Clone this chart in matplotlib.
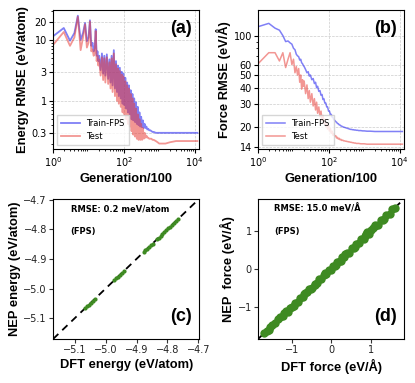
import numpy as np
import matplotlib
matplotlib.use("Agg")
import matplotlib.pyplot as plt
from matplotlib.ticker import FixedLocator, FixedFormatter, NullFormatter

# ---- training history (generation in units of 100) ----
generation = [1, 2, 3, 4, 5, 6, 7, 8, 9, 10, 11, 12, 13, 14, 15, 16, 17, 18, 19, 20,
              22, 24, 26, 28, 30, 33, 36, 39, 42, 45, 48, 52, 56, 60, 64, 68, 72, 77, 82, 87,
              92, 98, 104, 110, 117, 124, 131, 139, 147, 156, 165, 175, 185, 196, 208, 220,
              233, 247, 261, 276, 292, 309, 327, 346, 366, 388,
              410, 435, 460, 490, 520, 560, 600, 650, 700, 800, 900, 1000, 1200, 1500,
              2000, 3000, 5000, 8000, 12000]

energy_train = [11.5, 15.7, 9.7, 13, 25, 10, 13, 19, 9.5, 11, 21, 8, 9, 6.5, 7.5, 15, 5.5, 6.5, 4.5, 5.5,
                3.2, 6.0, 2.8, 5.5, 2.6, 5.8, 2.3, 4.8, 2.0, 5.5, 1.8, 6.8, 1.6, 4.5, 1.4, 3.8, 1.2, 3.5, 1.1, 3.0,
                0.9, 2.8, 0.85, 2.4, 0.75, 2.0, 0.65, 1.8, 0.6, 1.5, 0.5, 1.3, 0.48, 1.1, 0.45, 0.95,
                0.42, 0.8, 0.4, 0.65, 0.38, 0.55, 0.37, 0.48, 0.36, 0.42,
                0.36, 0.38, 0.34, 0.35, 0.33, 0.33, 0.32, 0.31, 0.31, 0.30, 0.30, 0.30, 0.30, 0.30,
                0.30, 0.30, 0.30, 0.30, 0.30]
energy_test = [8.3, 13.5, 8.0, 11, 24, 6.8, 11, 18, 7.5, 9, 20, 6.5, 7, 5.5, 6, 14, 4.5, 5.5, 3.8, 4.8,
               2.6, 5.2, 2.2, 5.0, 2.0, 5.2, 1.9, 4.3, 1.6, 5.0, 1.4, 6.0, 1.2, 4.0, 1.0, 3.4, 0.9, 3.1, 0.8, 2.7,
               0.65, 2.5, 0.6, 2.1, 0.5, 1.8, 0.42, 1.6, 0.38, 1.3, 0.32, 1.1, 0.28, 0.9, 0.26, 0.75,
               0.24, 0.6, 0.23, 0.5, 0.23, 0.42, 0.23, 0.36, 0.24, 0.30,
               0.25, 0.27, 0.25, 0.25, 0.24, 0.24, 0.24, 0.23, 0.23, 0.22, 0.21, 0.20, 0.20, 0.20,
               0.21, 0.22, 0.22, 0.22, 0.22]

force_train = [117, 124, 114, 110, 100, 90, 91, 88, 86, 80, 78, 72, 70, 69, 65, 66, 62, 61, 59, 58,
               55, 52, 53, 49, 50, 46, 47, 43, 44, 40, 41, 37.5, 38, 35, 35.5, 32.5, 33, 30.5, 30.5, 28.5,
               28.5, 26.5, 26.5, 25, 25, 23.8, 23.6, 22.7, 22.5, 22, 21.8, 21.3, 21.2, 20.8, 20.7, 20.4,
               20.3, 20.1, 20, 19.9, 19.8, 19.7, 19.6, 19.5, 19.4, 19.3,
               19.2, 19.2, 19.1, 19.1, 19.0, 19.0, 18.9, 18.9, 18.8, 18.8, 18.7, 18.7, 18.6, 18.6,
               18.5, 18.5, 18.5, 18.5, 18.5]
force_test = [61, 74, 74, 64, 74, 57, 66, 74, 60, 66, 52, 58, 50, 56, 44, 50, 39, 46, 41, 45,
              36, 42, 33, 38, 31, 36, 29, 33, 27, 31, 25.5, 28.5, 24, 26.5, 22.5, 24.5, 21.5, 23, 20.3, 21.5,
              19.3, 20.5, 18.6, 19.5, 17.9, 18.6, 17.3, 17.8, 16.9, 17.2, 16.5, 16.7, 16.2, 16.4, 16.0, 16.1,
              15.8, 15.9, 15.7, 15.7, 15.6, 15.6, 15.5, 15.5, 15.4, 15.4,
              15.3, 15.3, 15.2, 15.2, 15.1, 15.1, 15.0, 15.0, 15.0, 14.9, 14.9, 14.9, 14.8, 14.8,
              14.8, 14.8, 14.8, 14.8, 14.8]

# ---- parity data ----
dft_energy = [-5.066, -5.060, -5.054, -5.048, -5.042, -5.036,
              -4.972, -4.966, -4.960, -4.954, -4.948, -4.942,
              -4.877, -4.871, -4.865, -4.859, -4.853, -4.848,
              -4.834, -4.828, -4.822, -4.816, -4.810, -4.804,
              -4.797, -4.791, -4.785, -4.779, -4.773, -4.766]
nep_energy = [-5.0662, -5.0598, -5.0543, -5.0478, -5.0421, -5.0362,
              -4.9722, -4.9658, -4.9602, -4.9537, -4.9483, -4.9418,
              -4.8768, -4.8712, -4.8648, -4.8593, -4.8528, -4.8482,
              -4.8342, -4.8278, -4.8223, -4.8158, -4.8102, -4.8038,
              -4.7968, -4.7913, -4.7848, -4.7792, -4.7731, -4.7661]

dft_force = [-1.70, -1.62, -1.55, -1.50, -1.42, -1.35, -1.30, -1.22, -1.15, -1.10, -1.05, -0.98,
             -0.92, -0.85, -0.80, -0.72, -0.66, -0.60, -0.55, -0.48, -0.42, -0.36, -0.30, -0.25,
             -0.18, -0.12, -0.06, 0.00, 0.05, 0.10, 0.16, 0.22, 0.28, 0.33, 0.40, 0.45, 0.52,
             0.58, 0.63, 0.70, 0.76, 0.82, 0.88, 0.95, 1.00, 1.06, 1.12, 1.18, 1.25, 1.32,
             1.40, 1.48, 1.55, 1.62, -1.58, -1.20, -0.95, -0.70, -0.40, -0.15, 0.12, 0.35,
             0.60, 0.85, 1.10, 1.35, 0.90, -0.50, 0.25]
nep_force = [-1.68, -1.64, -1.53, -1.47, -1.44, -1.33, -1.27, -1.24, -1.12, -1.13, -1.02, -1.00,
             -0.89, -0.88, -0.77, -0.74, -0.63, -0.62, -0.52, -0.50, -0.39, -0.38, -0.27, -0.27,
             -0.15, -0.14, -0.03, -0.02, 0.08, 0.08, 0.19, 0.20, 0.31, 0.31, 0.43, 0.43, 0.55,
             0.56, 0.66, 0.68, 0.79, 0.80, 0.91, 0.93, 1.03, 1.08, 1.15, 1.16, 1.28, 1.30,
             1.43, 1.46, 1.58, 1.60, -1.61, -1.17, -0.98, -0.67, -0.43, -0.12, 0.09, 0.38,
             0.57, 0.88, 1.13, 1.32, 0.96, -0.53, 0.22]

label_font = {"family": "Liberation Sans", "weight": "bold", "size": 9.3}
tick_size = 7
blue, red, green = "#2b2bf0", "#e8403a", "#3e8a22"

fig = plt.figure(figsize=(4.15, 3.83), dpi=100)
axA = fig.add_axes([0.128, 0.611, 0.352, 0.363])
axB = fig.add_axes([0.622, 0.611, 0.352, 0.363])
axC = fig.add_axes([0.128, 0.115, 0.352, 0.366])
axD = fig.add_axes([0.622, 0.115, 0.352, 0.366])

# (a) energy RMSE
axA.plot(generation, energy_train, color=blue, alpha=0.6, lw=1.3, label="Train-FPS")
axA.plot(generation, energy_test, color=red, alpha=0.55, lw=1.3, label="Test")
axA.set_xscale("log")
axA.set_yscale("log")
axA.set_xlim(1, 1.35e4)
axA.set_ylim(0.163, 31)
axA.yaxis.set_major_locator(FixedLocator([0.3, 1, 3, 10, 20]))
axA.yaxis.set_major_formatter(FixedFormatter(["0.3", "1", "3", "10", "20"]))
axA.yaxis.set_minor_formatter(NullFormatter())
axA.set_ylabel("Energy RMSE (eV/atom)", fontdict=label_font, labelpad=2)
axA.set_xlabel("Generation/100", fontdict=label_font, labelpad=3)
axA.text(0.95, 0.93, "(a)", transform=axA.transAxes, ha="right", va="top",
         fontsize=13, fontweight="bold", family="Liberation Sans")

# (b) force RMSE
axB.plot(generation, force_train, color=blue, alpha=0.6, lw=1.1, label="Train-FPS")
axB.plot(generation, force_test, color=red, alpha=0.55, lw=1.1, label="Test")
axB.set_xscale("log")
axB.set_yscale("log")
axB.set_xlim(1, 1.35e4)
axB.set_ylim(13.6, 157)
axB.yaxis.set_major_locator(FixedLocator([14, 20, 30, 40, 50, 60, 100]))
axB.yaxis.set_major_formatter(FixedFormatter(["14", "20", "30", "40", "50", "60", "100"]))
axB.yaxis.set_minor_formatter(NullFormatter())
axB.set_ylabel("Force RMSE (eV/Å)", fontdict=label_font, labelpad=2)
axB.set_xlabel("Generation/100", fontdict=label_font, labelpad=3)
axB.text(0.95, 0.93, "(b)", transform=axB.transAxes, ha="right", va="top",
         fontsize=13, fontweight="bold", family="Liberation Sans")

for ax in (axA, axB):
    ax.set_xticks([1, 100, 10000])
    ax.grid(True, which="major", ls="--", lw=0.5, color="#cccccc")
    ax.tick_params(labelsize=tick_size, length=3, pad=1.5)
    ax.tick_params(which="minor", length=1.5)
    ax.legend(loc="lower left", fontsize=6, frameon=True, handlelength=2.2,
              borderpad=0.5, labelspacing=0.4, fancybox=False, edgecolor="#cccccc")

# (c) energy parity
lo_e, hi_e = -5.17, -4.697
axC.plot([lo_e, hi_e], [lo_e, hi_e], ls="--", color="black", lw=1.3, dashes=(4, 3))
axC.scatter(dft_energy, nep_energy, s=9, color=green, zorder=3, linewidths=0)
axC.set_xlim(lo_e, hi_e)
axC.set_ylim(lo_e, hi_e)
axC.set_xticks([-5.1, -5.0, -4.9, -4.8, -4.7])
axC.set_yticks([-5.1, -5.0, -4.9, -4.8, -4.7])
axC.set_xlabel("DFT energy (eV/atom)", fontdict=label_font, labelpad=3)
axC.set_ylabel("NEP energy (eV/atom)", fontdict=label_font, labelpad=2)
axC.text(0.12, 0.93, "RMSE: 0.2 meV/atom", transform=axC.transAxes, ha="left", va="center",
         fontsize=6, fontweight="bold")
axC.text(0.12, 0.77, "(FPS)", transform=axC.transAxes, ha="left", va="center",
         fontsize=6, fontweight="bold")
axC.text(0.95, 0.1, "(c)", transform=axC.transAxes, ha="right", va="bottom",
         fontsize=13, fontweight="bold", family="Liberation Sans")

# (d) force parity
lo_f, hi_f = -1.85, 1.85
axD.plot([lo_f, hi_f], [lo_f, hi_f], ls="--", color="black", lw=1.3, dashes=(4, 3))
axD.scatter(dft_force, nep_force, s=36, color=green, zorder=3, linewidths=0)
axD.set_xlim(lo_f, hi_f)
axD.set_ylim(lo_f, hi_f)
axD.set_xticks([-1, 0, 1])
axD.set_yticks([-1, 0, 1])
axD.set_xlabel("DFT force (eV/Å)", fontdict=label_font, labelpad=3)
axD.set_ylabel("NEP  force (eV/Å)", fontdict=label_font, labelpad=2)
axD.text(0.11, 0.93, "RMSE: 15.0 meV/Å", transform=axD.transAxes, ha="left", va="center",
         fontsize=6, fontweight="bold")
axD.text(0.11, 0.77, "(FPS)", transform=axD.transAxes, ha="left", va="center",
         fontsize=6, fontweight="bold")
axD.text(0.95, 0.1, "(d)", transform=axD.transAxes, ha="right", va="bottom",
         fontsize=13, fontweight="bold", family="Liberation Sans")

for ax in (axC, axD):
    ax.tick_params(labelsize=tick_size, length=3, pad=1.5, colors="#333333", labelcolor="#222222")

for ax in (axA, axB, axC, axD):
    for s in ax.spines.values():
        s.set_linewidth(0.8)

fig.savefig("out.png", dpi=100)
